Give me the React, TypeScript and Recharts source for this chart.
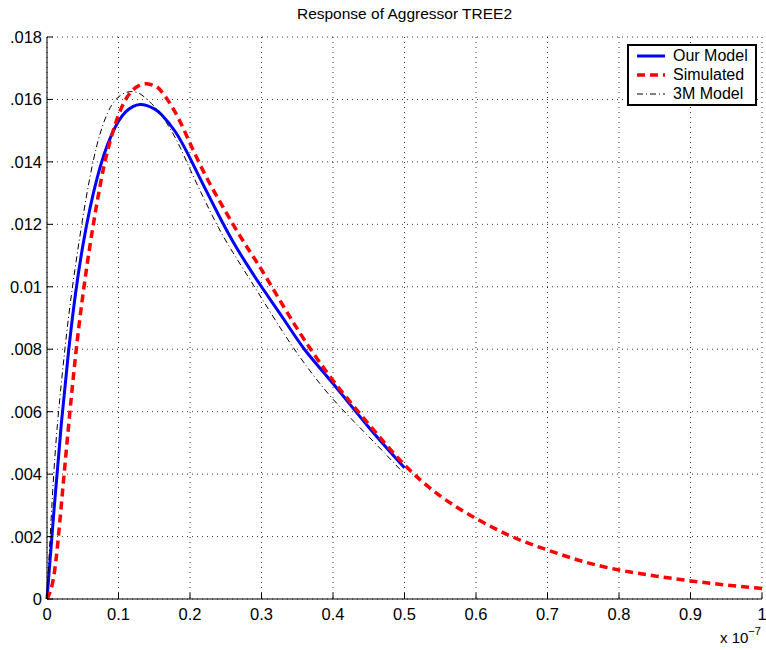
import { LineChart, Line, XAxis, YAxis, CartesianGrid, Legend } from "recharts"

const FONT = '"Liberation Sans", Arial, Helvetica, sans-serif'

// time axis, in units of 1e-7 s
const xs = [
  0, 0.01, 0.02, 0.03, 0.04, 0.05, 0.06, 0.07, 0.08, 0.09, 0.1, 0.11, 0.12, 0.13, 0.14, 0.15, 0.16, 0.18,
  0.2, 0.22, 0.24, 0.26, 0.28, 0.3, 0.33, 0.36, 0.4, 0.45, 0.5, 0.55, 0.6, 0.65, 0.7, 0.75, 0.8, 0.85, 0.9,
  0.95, 1,
]

const ourModel = [
  0, 0.0029, 0.0056, 0.0079, 0.0098, 0.0113, 0.0125, 0.01347, 0.01425, 0.01485, 0.0153, 0.0156, 0.01577,
  0.01584, 0.0158, 0.0157, 0.01552, 0.01495, 0.01412, 0.0132, 0.0123, 0.01145, 0.0107, 0.01, 0.009, 0.008,
  0.0069, 0.0055, 0.0042, null, null, null, null, null, null, null, null, null, null,
]

const simulated = [
  0, 0.0008, 0.003, 0.0055, 0.0078, 0.0097, 0.0113, 0.0127, 0.0139, 0.0148, 0.0155, 0.016, 0.0163, 0.01646,
  0.0165, 0.01644, 0.01626, 0.01556, 0.0146, 0.01364, 0.0128, 0.01201, 0.01126, 0.01055, 0.0094, 0.0083,
  0.007, 0.0056, 0.0043, 0.0033, 0.00258, 0.002, 0.00157, 0.0012, 0.00093, 0.00074, 0.00058, 0.00045,
  0.00034,
]

const threeM = [
  0, 0.0042, 0.0069, 0.009, 0.0107, 0.0122, 0.0135, 0.01455, 0.0153, 0.0158, 0.01608, 0.01622, 0.01625,
  0.01618, 0.016, 0.01578, 0.0155, 0.01475, 0.01377, 0.0128, 0.01189, 0.0111, 0.01037, 0.00964, 0.00855,
  0.00755, 0.0064, 0.0052, 0.004, null, null, null, null, null, null, null, null, null, null,
]

const xTicks = [0, 0.1, 0.2, 0.3, 0.4, 0.5, 0.6, 0.7, 0.8, 0.9, 1]
const xTickLabels = ["0", "0.1", "0.2", "0.3", "0.4", "0.5", "0.6", "0.7", "0.8", "0.9", "1"]
const yTicks = [0, 0.002, 0.004, 0.006, 0.008, 0.01, 0.012, 0.014, 0.016, 0.018]
const yTickLabels = ["0", ".002", ".004", ".006", ".008", "0.01", ".012", ".014", ".016", ".018"]

const series = [
  { key: "our", name: "Our Model", color: "#0000ff", width: 3, dash: undefined },
  { key: "sim", name: "Simulated", color: "#ff0000", width: 3.5, dash: "8 5" },
  { key: "m3", name: "3M Model", color: "#000000", width: 1, dash: "6 3 1 3" },
]

const data = xs.map((x, i) => ({ x, our: ourModel[i], sim: simulated[i], m3: threeM[i] }))

const tickLabel = (labels: string[], ticks: number[], v: number) => {
  const i = ticks.findIndex((t) => Math.abs(t - v) < 1e-9)
  return i >= 0 ? labels[i] : String(v)
}

const BottomTick = ({ x, y, payload }: any) => (
  <g>
    <line x1={x} x2={x} y1={y} y2={y - 6} stroke="#000" />
    <text x={x} y={y + 21} textAnchor="middle" fontSize={16.5} fontFamily={FONT} fill="#000">
      {tickLabel(xTickLabels, xTicks, payload.value)}
    </text>
  </g>
)

const TopTick = ({ x, y }: any) => <line x1={x} x2={x} y1={y} y2={y + 6} stroke="#000" />

const LeftTick = ({ x, y, payload }: any) => (
  <g>
    <line x1={x} x2={x + 6} y1={y} y2={y} stroke="#000" />
    <text x={x - 5} y={y + 6} textAnchor="end" fontSize={16.5} fontFamily={FONT} fill="#000">
      {tickLabel(yTickLabels, yTicks, payload.value)}
    </text>
  </g>
)

const RightTick = ({ x, y }: any) => <line x1={x} x2={x - 6} y1={y} y2={y} stroke="#000" />

function LegendBox() {
  return (
    <div
      style={{
        border: "2px solid #000",
        background: "#fff",
        padding: "1px 0 1px 7px",
        fontFamily: FONT,
        fontSize: 16,
        color: "#000",
        boxSizing: "border-box",
        width: 130,
      }}
    >
      {series.map((s) => (
        <div key={s.key} style={{ display: "flex", alignItems: "center", height: 18.7 }}>
          <svg width={30} height={10}>
            <line x1={1} x2={29} y1={5} y2={5} stroke={s.color} strokeWidth={s.width} strokeDasharray={s.dash} />
          </svg>
          <span style={{ marginLeft: 7 }}>{s.name}</span>
        </div>
      ))}
    </div>
  )
}

export default function App() {
  return (
    <div style={{ position: "absolute", left: 0, top: 0, width: 766, height: 650, background: "#fff" }}>
      <div
        style={{
          position: "absolute",
          left: 47,
          top: 5,
          width: 715,
          textAlign: "center",
          fontFamily: FONT,
          fontSize: 15.5,
          lineHeight: "18px",
        }}
      >
        Response of Aggressor TREE2
      </div>
      <LineChart width={766} height={650} data={data} margin={{ top: 37, right: 4, bottom: 21, left: 0 }}>
        <CartesianGrid stroke="#000" strokeDasharray="1 4" strokeWidth={0.8} />
        <XAxis
          dataKey="x"
          type="number"
          domain={[0, 1]}
          ticks={xTicks}
          height={30}
          stroke="#000"
          tickLine={false}
          tickSize={0}
          tickMargin={0}
          tick={<BottomTick />}
          interval={0}
        />
        <XAxis
          xAxisId="top"
          orientation="top"
          dataKey="x"
          type="number"
          domain={[0, 1]}
          ticks={xTicks}
          height={0}
          stroke="#000"
          tickLine={false}
          tickSize={0}
          tickMargin={0}
          tick={<TopTick />}
          interval={0}
        />
        <YAxis
          type="number"
          domain={[0, 0.018]}
          ticks={yTicks}
          width={47}
          stroke="#000"
          tickLine={false}
          tickSize={0}
          tickMargin={0}
          tick={<LeftTick />}
          interval={0}
        />
        <YAxis
          yAxisId="right"
          orientation="right"
          type="number"
          domain={[0, 0.018]}
          ticks={yTicks}
          width={0}
          stroke="#000"
          tickLine={false}
          tickSize={0}
          tickMargin={0}
          tick={<RightTick />}
          interval={0}
        />
        {series.map((s) => (
          <Line
            key={s.key}
            dataKey={s.key}
            name={s.name}
            type="natural"
            stroke={s.color}
            strokeWidth={s.width}
            strokeDasharray={s.dash}
            dot={false}
            activeDot={false}
            isAnimationActive={false}
          />
        ))}
        <Legend
          layout="vertical"
          align="center"
          verticalAlign="middle"
          content={<LegendBox />}
          wrapperStyle={{ left: 627, top: 44, width: 130, right: "auto", bottom: "auto" }}
        />
      </LineChart>
      <div style={{ position: "absolute", left: 720, top: 627, fontFamily: FONT, fontSize: 15, whiteSpace: "nowrap" }}>
        x 10<sup style={{ fontSize: 11, position: "relative", top: -2 }}>−7</sup>
      </div>
    </div>
  )
}
